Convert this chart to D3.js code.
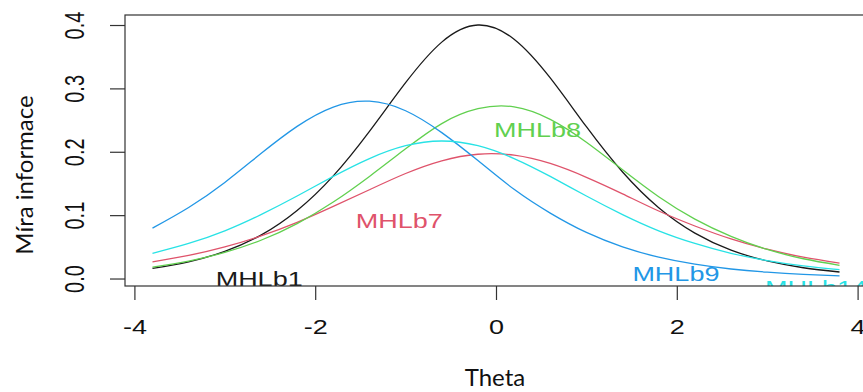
<!DOCTYPE html>
<meta charset="utf-8">
<head>
<style>
  body { margin: 0; background: #fff; }
  .rtext { font-family: "Liberation Sans", Arial, sans-serif; }
  .title { font-family: Lato, "Open Sans", sans-serif; fill: #111; }
</style>
</head>
<body>
<script src="https://d3js.org/d3.v7.min.js"></script>
<script>

// item information values
var theta = [-3.8, -3.4, -3.0, -2.6, -2.2, -1.8, -1.4, -1.0, -0.6, -0.2,
              0.2,  0.6,  1.0,  1.4,  1.8,  2.2,  2.6,  3.0,  3.4,  3.8];

var items = ["MHLb1", "MHLb7", "MHLb8", "MHLb9", "MHLb14"];

var infoMHLb1  = [0.0160, 0.0264, 0.0429, 0.0685, 0.1074, 0.1620, 0.2323, 0.3090, 0.3730, 0.4000,
                  0.3776, 0.3165, 0.2395, 0.1680, 0.1117, 0.0717, 0.0448, 0.0277, 0.0170, 0.0103];
var infoMHLb7  = [0.0263, 0.0364, 0.0499, 0.0672, 0.0886, 0.1137, 0.1401, 0.1657, 0.1857, 0.1961,
                  0.1946, 0.1815, 0.1597, 0.1336, 0.1065, 0.0829, 0.0625, 0.0462, 0.0336, 0.0243];
var infoMHLb8  = [0.0180, 0.0275, 0.0412, 0.0604, 0.0867, 0.1207, 0.1611, 0.2046, 0.2445, 0.2679,
                  0.2709, 0.2512, 0.2151, 0.1716, 0.1291, 0.0937, 0.0665, 0.0458, 0.0312, 0.0209];
var infoMHLb9  = [0.0795, 0.1120, 0.1516, 0.1972, 0.2401, 0.2706, 0.2798, 0.2647, 0.2302, 0.1861,
                  0.1407, 0.1032, 0.0727, 0.0500, 0.0337, 0.0226, 0.0150, 0.0100, 0.0066, 0.0043];
var infoMHLb14 = [0.0398, 0.0554, 0.0753, 0.1009, 0.1302, 0.1611, 0.1893, 0.2096, 0.2170, 0.2096,
                  0.1893, 0.1611, 0.1302, 0.1009, 0.0753, 0.0554, 0.0398, 0.0284, 0.0199, 0.0139];

// where the item names sit, in data units
var labelTheta = [-2.62, -1.07, 0.46, 1.99, 3.54];
var labelInfo  = [0.000, 0.091, 0.234, 0.007, -0.014];

var xTicks = [-4, -2, 0, 2, 4];
var yTicks = [0.0, 0.1, 0.2, 0.3, 0.4];

var series = [infoMHLb1, infoMHLb7, infoMHLb8, infoMHLb9, infoMHLb14];
var colors = ["#1a1a1a", "#DF536B", "#61D04F", "#2297E6", "#28E2E5"];

var width = 863, height = 392;
var stretch = 1.35;   // picture is stretched sideways

var x = d3.scaleLinear().domain([-4.104, 4.104]).range([125, 867]);
var y = d3.scaleLinear().domain([-0.0118, 0.4158]).range([286, 15]);

var svg = d3.select("body").append("svg")
    .attr("width", width)
    .attr("height", height);

svg.append("rect").attr("width", width).attr("height", height).attr("fill", "#fff");

svg.append("clipPath").attr("id", "plotclip")
  .append("rect")
    .attr("x", x.range()[0]).attr("y", y.range()[1])
    .attr("width", x.range()[1] - x.range()[0])
    .attr("height", y.range()[0] - y.range()[1]);

var plot = svg.append("g").attr("clip-path", "url(#plotclip)");

var line = d3.line()
    .x(function(d, i) { return x(theta[i]); })
    .y(function(d) { return y(d); })
    .curve(d3.curveNatural);

// draw black last like R does first? R draws in order, keep order
series.forEach(function(s, i) {
  plot.append("path")
      .datum(s)
      .attr("fill", "none")
      .attr("stroke", colors[i])
      .attr("stroke-width", 1.3)
      .attr("d", line);
});

items.forEach(function(name, i) {
  plot.append("text")
      .attr("class", "rtext")
      .attr("transform", "translate(" + x(labelTheta[i]) + "," + y(labelInfo[i]) + ") scale(" + stretch + ",1)")
      .attr("text-anchor", "middle")
      .attr("dominant-baseline", "central")
      .attr("font-size", 20)
      .attr("fill", colors[i])
      .text(name);
});

// box (right side falls outside the picture)
svg.append("rect")
    .attr("x", x.range()[0]).attr("y", y.range()[1])
    .attr("width", x.range()[1] - x.range()[0])
    .attr("height", y.range()[0] - y.range()[1])
    .attr("fill", "none")
    .attr("stroke", "#333")
    .attr("stroke-width", 1.2);

// x axis
var xAxis = d3.axisBottom(x).tickValues(xTicks).tickSize(14).tickPadding(0)
    .tickFormat(function(d) { return d; });

var gx = svg.append("g")
    .attr("transform", "translate(0," + y.range()[0] + ")")
    .call(xAxis);
gx.select(".domain").remove();
gx.selectAll("line").attr("stroke", "#333").attr("stroke-width", 1.2);
gx.selectAll("text")
    .attr("class", "rtext")
    .attr("font-size", 20)
    .attr("fill", "#111")
    .attr("y", null).attr("dy", null)
    .attr("dominant-baseline", "central")
    .attr("transform", "translate(0,41) scale(" + stretch + ",1)");

// y axis
var yAxis = d3.axisLeft(y).tickValues(yTicks).tickSize(15).tickPadding(0)
    .tickFormat(d3.format(".1f"));

var gy = svg.append("g")
    .attr("transform", "translate(" + x.range()[0] + ",0)")
    .call(yAxis);
gy.select(".domain").remove();
gy.selectAll("line").attr("stroke", "#333").attr("stroke-width", 1.2);
gy.selectAll("text")
    .attr("class", "rtext")
    .attr("font-size", 20)
    .attr("fill", "#111")
    .attr("x", null).attr("dy", null)
    .attr("text-anchor", "middle")
    .attr("dominant-baseline", "central")
    .attr("transform", "translate(-51,0) scale(" + stretch + ",1) rotate(-90)");

// axis titles
svg.append("text")
    .attr("class", "title")
    .attr("x", 495)
    .attr("y", 386)
    .attr("text-anchor", "middle")
    .attr("font-size", 24)
    .text("Theta");

svg.append("text")
    .attr("class", "title")
    .attr("transform", "translate(33,175) rotate(-90)")
    .attr("text-anchor", "middle")
    .attr("font-size", 24)
    .text("Míra informace");

</script>
</body>
